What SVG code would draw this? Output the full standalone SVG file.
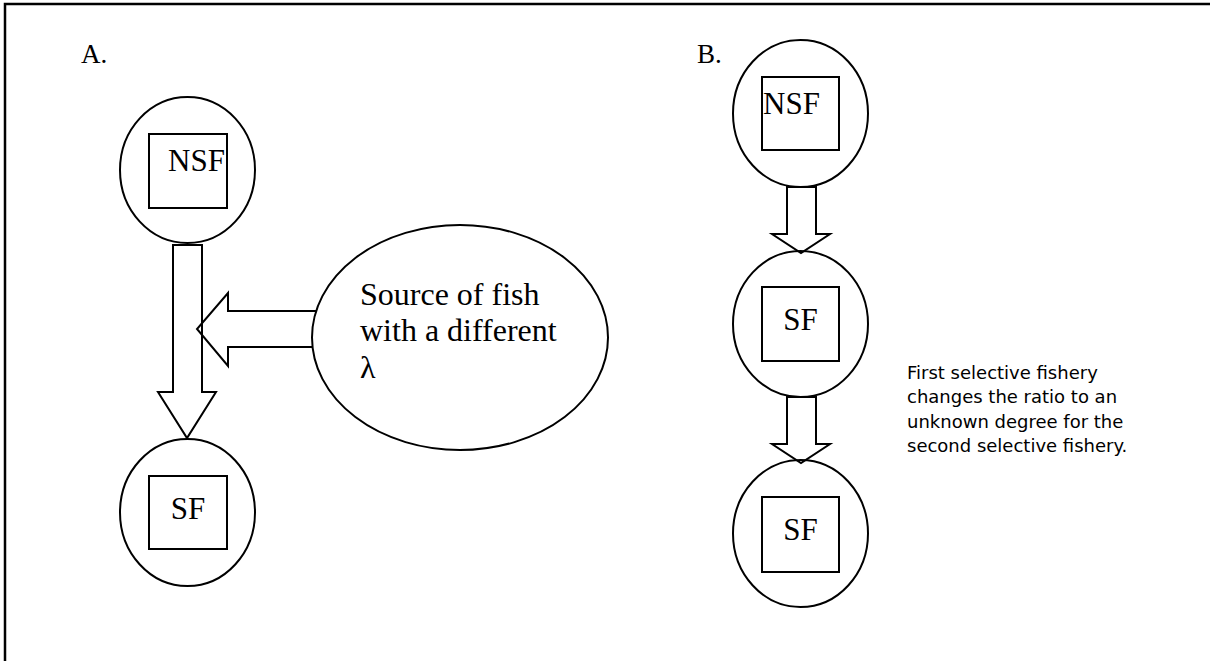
<svg xmlns="http://www.w3.org/2000/svg" width="1210" height="661" viewBox="0 0 1210 661">
<style>
.o{fill:none;stroke:#000;stroke-width:2}
.w{fill:#fff;stroke:#000;stroke-width:2}
.t{font-family:"Liberation Serif","Times New Roman",serif;fill:#000}
.n{font-family:"DejaVu Sans",Tahoma,sans-serif;fill:#000;font-size:18px}
</style>
<rect width="1210" height="661" fill="#fff"/>
<path d="M5,661 V4 H1210" fill="none" stroke="#000" stroke-width="2.5"/>
<text class="t" x="81" y="63" font-size="27">A.</text>
<text class="t" x="697" y="63" font-size="27">B.</text>
<g id="connectors">
<polygon class="o" points="173,245 202,245 202,392 216,392 187,438 158,392 173,392"/>
<polygon class="o" points="317,311 228,311 228,293 197,329 228,366 228,347 317,347"/>
<polygon class="o" points="787,187 816,187 816,234 830,234 801,253 772,234 787,234"/>
<polygon class="o" points="787,397 816,397 816,444 830,444 801,463 772,444 787,444"/>
</g>
<g id="a-nsf">
<ellipse class="o" cx="187.5" cy="170" rx="67.5" ry="73"/>
<rect class="o" x="149" y="134" width="78" height="74"/>
<text class="t" x="168" y="171" font-size="31">NSF</text>
</g>
<g id="a-sf">
<ellipse class="o" cx="187.5" cy="512.5" rx="67.5" ry="73.5"/>
<rect class="o" x="149" y="476" width="78" height="73"/>
<text class="t" x="188" y="519" font-size="31" text-anchor="middle">SF</text>
</g>
<g id="source">
<ellipse class="w" cx="460" cy="337.5" rx="148" ry="112.5"/>
<text class="t" x="360" y="305" font-size="32">Source of fish</text>
<text class="t" x="360" y="341" font-size="32">with a different</text>
<text class="t" x="360" y="378" font-size="32">λ</text>
</g>
<g id="b-nsf">
<ellipse class="o" cx="800.5" cy="113.5" rx="67.5" ry="73.5"/>
<rect class="o" x="762" y="77" width="77" height="73"/>
<text class="t" x="763" y="114" font-size="31">NSF</text>
</g>
<g id="b-sf1">
<ellipse class="o" cx="800.5" cy="324" rx="67.5" ry="73"/>
<rect class="o" x="762" y="287" width="77" height="74"/>
<text class="t" x="800.5" y="330" font-size="31" text-anchor="middle">SF</text>
</g>
<g id="b-sf2">
<ellipse class="o" cx="800.5" cy="533.5" rx="67.5" ry="73.5"/>
<rect class="o" x="762" y="497" width="77" height="75"/>
<text class="t" x="800.5" y="540" font-size="31" text-anchor="middle">SF</text>
</g>
<g id="note">
<text class="n" x="907" y="379">First selective fishery</text>
<text class="n" x="907" y="403">changes the ratio to an</text>
<text class="n" x="907" y="428">unknown degree for the</text>
<text class="n" x="907" y="452">second selective fishery.</text>
</g>
</svg>
